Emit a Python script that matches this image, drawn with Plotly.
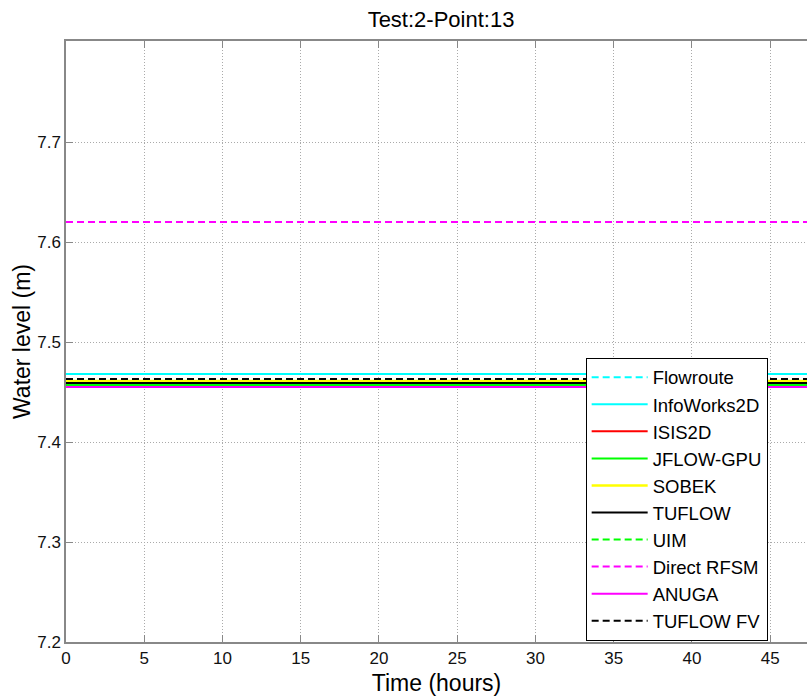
import plotly.graph_objects as go

# ---- data ----
time_hours = [0, 48]
series_names = ["Flowroute", "InfoWorks2D", "ISIS2D", "JFLOW-GPU", "SOBEK",
                "TUFLOW", "UIM", "Direct RFSM", "ANUGA", "TUFLOW FV"]
series_levels = [7.468, 7.468, 7.461, 7.457, 7.461, 7.459, 7.457, 7.620, 7.455, 7.463]
series_colors = ["#00ffff", "#00ffff", "#ff0000", "#00ff00", "#ffff00",
                 "#000000", "#00ff00", "#ff00ff", "#ff00ff", "#000000"]
series_dash = ["7px,4px", "solid", "solid", "solid", "solid",
               "solid", "7px,4px", "7px,4px", "solid", "7px,4px"]
x_ticks = [0, 5, 10, 15, 20, 25, 30, 35, 40, 45]
y_ticks = [7.2, 7.3, 7.4, 7.5, 7.6, 7.7]

FONT = "Liberation Sans, Arial, Helvetica, sans-serif"

fig = go.Figure()
for name, lvl, col, dsh in zip(series_names, series_levels, series_colors, series_dash):
    fig.add_trace(go.Scatter(
        x=time_hours, y=[lvl] * len(time_hours), mode="lines", name=name,
        line=dict(color=col, width=2.5 if col == "#ffff00" else 2, dash=dsh)))

axis_common = dict(
    showline=True, linecolor="#888888", linewidth=1.5,
    ticks="inside", ticklen=7, tickcolor="#888888", tickwidth=1,
    showgrid=True, gridcolor="#aaaaaa", griddash="1px,2px", gridwidth=1,
    zeroline=False, tickfont=dict(family=FONT, size=17, color="#111111"),
)

fig.update_layout(
    width=807, height=697,
    margin=dict(l=66, r=0, t=41, b=55),
    paper_bgcolor="white", plot_bgcolor="white",
    title=dict(text="Test:2-Point:13", x=441 / 807, xanchor="center",
               y=1 - 19 / 697, yanchor="middle", yref="container",
               font=dict(family=FONT, size=22, color="#000000")),
    xaxis=dict(range=[0, 47.35], tickvals=x_ticks, mirror="ticks",
               title=dict(text="Time (hours)", standoff=8,
                          font=dict(family=FONT, size=23, color="#000000")),
               **axis_common),
    yaxis=dict(range=[7.2, 7.801], tickvals=y_ticks, tickformat=".1f",
               title=dict(text="Water level (m)", standoff=0,
                          font=dict(family=FONT, size=23, color="#000000")),
               **axis_common),
    showlegend=True,
    legend=dict(x=0.7013, y=0.473, xanchor="left", yanchor="top",
                bordercolor="#000000", borderwidth=1, bgcolor="white",
                font=dict(family=FONT, size=18.5, color="#000000"),
                tracegroupgap=0, itemwidth=56),
)

fig.write_html("out.html")
